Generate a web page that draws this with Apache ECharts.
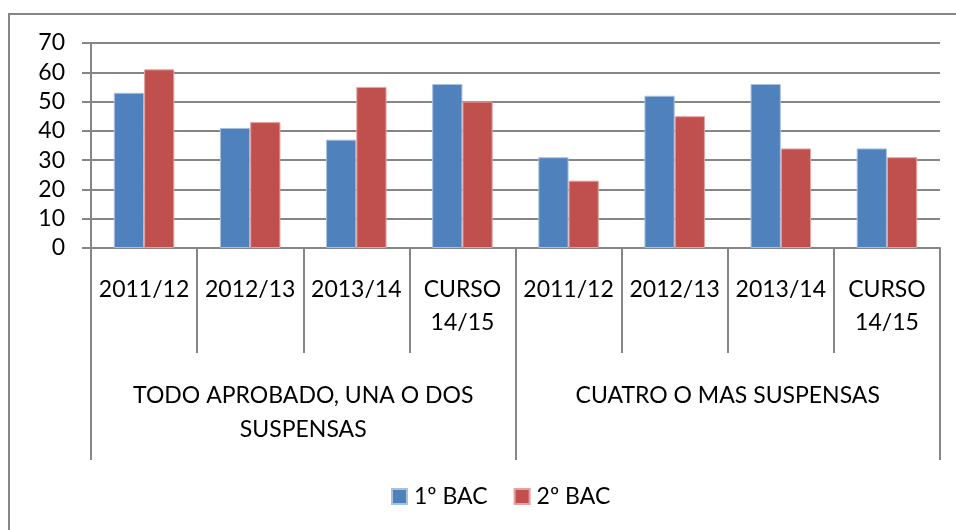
<!DOCTYPE html>
<html>
<head>
<meta charset="utf-8">
<script src="https://cdn.jsdelivr.net/npm/echarts@6/dist/echarts.min.js"></script>
<style>
  html, body { margin: 0; padding: 0; background: #fff; }
  #chart { width: 956px; height: 530px; }
</style>
</head>
<body>
<div id="chart"></div>
<script>
    // datos
    const years = [ '2011/12', '2012/13', '2013/14', 'CURSO\n14/15', '2011/12', '2012/13', '2013/14', 'CURSO\n14/15' ];
    const groups = [ 'TODO APROBADO, UNA O DOS\nSUSPENSAS', 'CUATRO O MAS SUSPENSAS' ];
    const seriesNames = [ '1º BAC', '2º BAC' ];
    const bac1 = [ 53, 41, 37, 56, 31, 52, 56, 34 ];
    const bac2 = [ 61, 43, 55, 50, 23, 45, 34, 31 ];

    const FONT = 'Lato';
    const GRAY = '#868686';

    const chart = echarts.init( document.getElementById( 'chart' ) );
    chart.setOption( {
        backgroundColor: '#ffffff',
        animation: false,
        textStyle: { fontFamily: FONT },
        graphic: [{
            type: 'rect',
            shape: { x: 9, y: 14, width: 1200, height: 1200 },
            style: { fill: 'none', stroke: GRAY, lineWidth: 2 }
        }],
        grid: { left: 91, right: 16, top: 43, bottom: 282 },
        legend: {
            data: seriesNames,
            bottom: 17,
            left: 386,
            icon: 'rect',
            itemWidth: 15,
            itemHeight: 15,
            itemGap: 26,
            textStyle: { fontFamily: FONT, fontSize: 23, color: '#000', padding: [ 0, 0, 0, 2 ] }
        },
        xAxis: [{
            type: 'category',
            data: years,
            position: 'bottom',
            axisLine: { show: true, lineStyle: { color: GRAY, width: 2 } },
            axisTick: { show: true, length: 105, lineStyle: { color: GRAY, width: 2 } },
            axisLabel: {
                interval: 0,
                margin: 25,
                fontFamily: FONT,
                fontSize: 23,
                lineHeight: 33,
                color: '#000',
                align: 'center'
            }
        }, {
            type: 'category',
            data: groups,
            position: 'bottom',
            offset: 0,
            axisLine: { show: false },
            axisTick: { show: true, length: 212, lineStyle: { color: GRAY, width: 2 } },
            axisLabel: {
                interval: 0,
                margin: 131,
                fontFamily: FONT,
                fontSize: 23,
                lineHeight: 34,
                color: '#000',
                align: 'center'
            }
        }],
        yAxis: {
            type: 'value',
            min: 0,
            max: 70,
            interval: 10,
            axisLine: { show: true, lineStyle: { color: GRAY, width: 2 } },
            axisTick: { show: true, length: 9, lineStyle: { color: GRAY, width: 2 } },
            splitLine: { show: true, lineStyle: { color: GRAY, width: 2 } },
            axisLabel: { margin: 26, fontFamily: FONT, fontSize: 23, color: '#000' }
        },
        series: [{
            name: seriesNames[ 0 ],
            type: 'bar',
            xAxisIndex: 0,
            data: bac1,
            barGap: 0,
            barCategoryGap: '43%',
            itemStyle: { color: '#4F81BD', borderColor: '#a9c0df', borderWidth: 1 }
        }, {
            name: seriesNames[ 1 ],
            type: 'bar',
            xAxisIndex: 0,
            data: bac2,
            barGap: 0,
            barCategoryGap: '43%',
            itemStyle: { color: '#C0504D', borderColor: '#e3a3a1', borderWidth: 1 }
        }]
    } );
</script>
</body>
</html>
